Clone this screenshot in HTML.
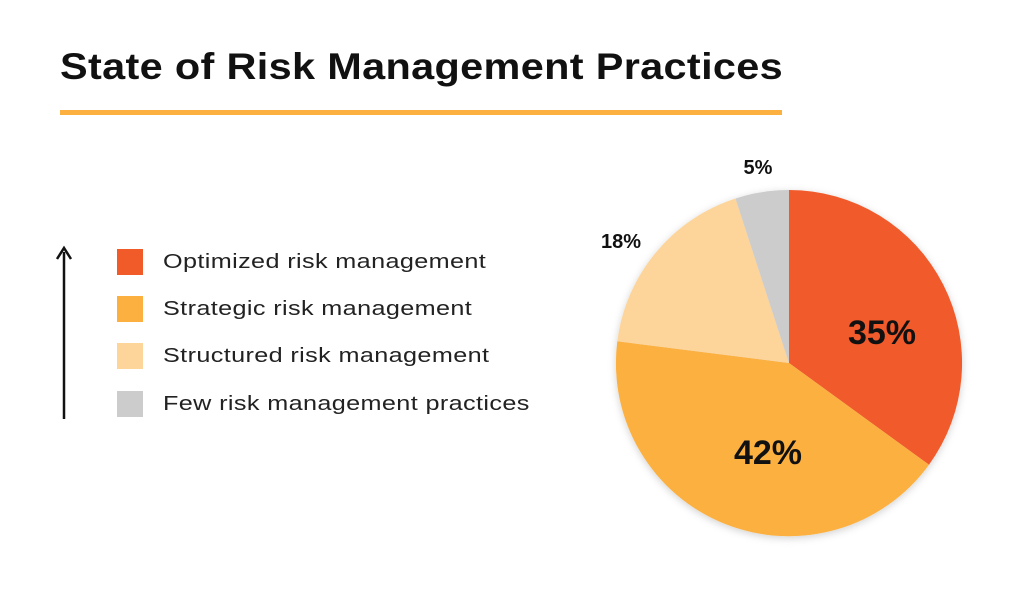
<!DOCTYPE html>
<html><head><meta charset="utf-8"><style>
html,body{margin:0;padding:0;background:#fff;}
body{width:1024px;height:597px;position:relative;overflow:hidden;font-family:"Liberation Sans",sans-serif;color:#111;}
.title{position:absolute;left:60px;top:46px;font-size:37px;font-weight:bold;letter-spacing:0.3px;white-space:nowrap;transform-origin:0 0;transform:scaleX(1.12);}
.bar{position:absolute;left:60px;top:110px;width:722px;height:5px;background:#FBB040;}
.sq{position:absolute;left:117px;width:26px;height:26px;}
.lt{position:absolute;left:163px;font-size:20px;white-space:nowrap;line-height:26px;color:#222;letter-spacing:0.3px;transform-origin:0 0;transform:scaleX(1.26);}
</style></head><body>
<div class="title">State of Risk Management Practices</div>
<div class="bar"></div>
<div class="sq" style="top:249px;background:#F15A29"></div>
<div class="lt" style="top:249px">Optimized risk management</div>
<div class="sq" style="top:296px;background:#FBB040"></div>
<div class="lt" style="top:296px">Strategic risk management</div>
<div class="sq" style="top:343px;background:#FDD49A"></div>
<div class="lt" style="top:343px">Structured risk management</div>
<div class="sq" style="top:391px;background:#CCCCCC"></div>
<div class="lt" style="top:391px">Few risk management practices</div>
<svg width="1024" height="597" style="position:absolute;left:0;top:0">
<line x1="64" y1="252" x2="64" y2="419" stroke="#111" stroke-width="2.5"/>
<path d="M57 259 L64 248 L71 259" fill="none" stroke="#111" stroke-width="2.5"/>
<defs><filter id="s" x="-20%" y="-20%" width="140%" height="140%"><feDropShadow dx="0" dy="2" stdDeviation="4" flood-opacity="0.18"/></filter></defs>
<g filter="url(#s)">
<path d="M789 363 L789 190 A173 173 0 0 1 929 464.7 Z" fill="#F15A29"/>
<path d="M789 363 L929 464.7 A173 173 0 0 1 617.3 341.3 Z" fill="#FBB040"/>
<path d="M789 363 L617.3 341.3 A173 173 0 0 1 735.5 198.5 Z" fill="#FDD49A"/>
<path d="M789 363 L735.5 198.5 A173 173 0 0 1 789 190 Z" fill="#CCCCCC"/>
</g>
<g font-family="Liberation Sans, sans-serif" font-weight="bold" fill="#111" text-anchor="middle">
<text x="882" y="344" font-size="34">35%</text>
<text x="768" y="464" font-size="34">42%</text>
<text x="621" y="248" font-size="20">18%</text>
<text x="758" y="174" font-size="20">5%</text>
</g>
</svg>
</body></html>
